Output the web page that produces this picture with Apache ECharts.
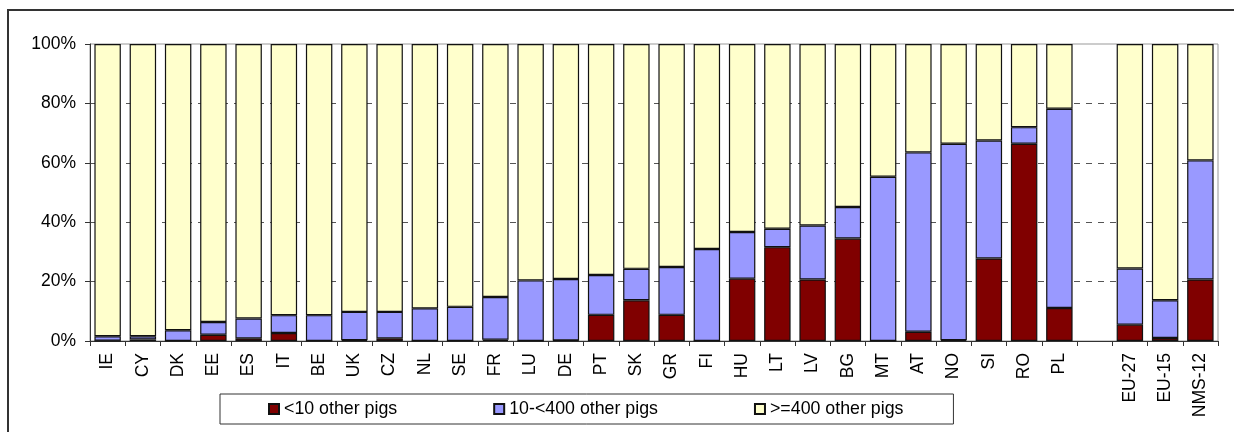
<!DOCTYPE html>
<html>
<head>
<meta charset="utf-8">
<script src="https://cdn.jsdelivr.net/npm/echarts@6/dist/echarts.min.js"></script>
<style>html,body{margin:0;padding:0;background:#fff}#c{width:1234px;height:432px}</style>
</head>
<body>
<div id="c"></div>
<script>
var categories = ['IE','CY','DK','EE','ES','IT','BE','UK','CZ','NL','SE','FR','LU','DE','PT','SK','GR','FI','HU','LT','LV','BG','MT','AT','NO','SI','RO','PL','','EU-27','EU-15','NMS-12'];
var small = [0.1,0.5,0,2.1,0.9,2.7,0,0.3,0.9,0,0,0.4,0,0.2,8.8,13.7,8.8,0,21.0,31.6,20.7,34.5,0,3.1,0.3,27.8,66.4,11.1,null,5.5,1.0,20.7];
var medium = [1.5,1.1,3.6,4.3,6.7,6.0,8.7,9.5,8.9,11.0,11.5,14.4,20.4,20.7,13.4,10.6,16.1,31.0,15.7,6.2,18.2,10.6,55.3,60.4,66.1,39.7,5.6,67.1,null,18.9,12.7,40.1];
var large = [98.4,98.4,96.4,93.6,92.4,91.3,91.3,90.2,90.2,89.0,88.5,85.2,79.6,79.1,77.8,75.7,75.1,69.0,63.3,62.2,61.1,54.9,44.7,36.5,33.6,32.5,28.0,21.8,null,75.6,86.3,39.2];
var seriesNames = ['<10 other pigs','10-<400 other pigs','>=400 other pigs'];
var yTicks = [0,20,40,60,80,100];

var chart = echarts.init(document.getElementById('c'));
var font = 'Liberation Sans, Arial, sans-serif';
function mk(name, data, color){
  return {name:name,type:'bar',stack:'t',data:data,barCategoryGap:'25%',
    itemStyle:{color:color,borderColor:'#111',borderWidth:1.2},emphasis:{disabled:true}};
}
chart.setOption({
  animation:false,
  graphic:[{type:'rect',shape:{x:8,y:10,width:1240,height:440},style:{fill:'none',stroke:'#333',lineWidth:2},z:-1}],
  grid:{left:90,right:16,top:44,bottom:91,show:true,borderColor:'#999',borderWidth:1},
  legend:{left:220,top:394,padding:[6,50,6,48],itemGap:96,itemWidth:10,itemHeight:10,icon:'rect',
    borderColor:'#333',borderWidth:1,borderRadius:0,
    textStyle:{fontFamily:font,fontSize:17.8,color:'#000',lineHeight:18},
    data:seriesNames},
  xAxis:{type:'category',data:categories,
    axisLine:{lineStyle:{color:'#333',width:1}},
    axisTick:{show:true,length:5,lineStyle:{color:'#333'},alignWithLabel:false},
    axisLabel:{rotate:90,interval:0,margin:12,fontFamily:font,fontSize:17.5,color:'#000'}},
  yAxis:{type:'value',min:0,max:100,interval:20,
    axisLine:{show:true,lineStyle:{color:'#333',width:1}},
    axisTick:{show:true,length:5,lineStyle:{color:'#333'}},
    axisLabel:{margin:14,fontFamily:font,fontSize:17.5,color:'#000',
      formatter:function(v){return yTicks.indexOf(v)>=0? v+'%':'';}},
    splitLine:{show:true,showMinLine:false,showMaxLine:false,lineStyle:{color:'#555',type:[6,6],width:1}}},
  series:[mk(seriesNames[0],small,'#800000'),mk(seriesNames[1],medium,'#9999FF'),mk(seriesNames[2],large,'#FFFFCC')]
});
</script>
</body>
</html>
